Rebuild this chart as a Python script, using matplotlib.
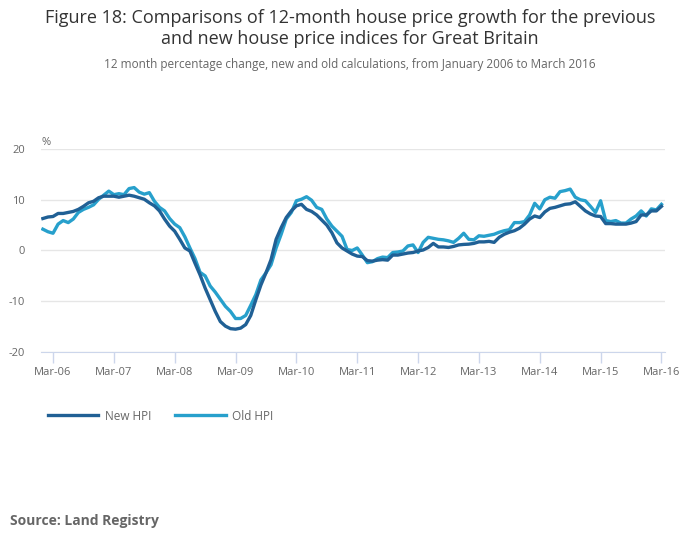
import matplotlib.pyplot as plt, numpy as np

plt.rcParams['font.family'] = ['Open Sans', 'DejaVu Sans']
plt.rcParams['axes.unicode_minus'] = False

# monthly, Jan 2006 .. Mar 2016
new_hpi = [6.3, 6.6, 6.7, 7.3, 7.3, 7.5, 7.7, 8.1, 8.7, 9.4, 9.7, 10.4, 10.7, 10.7, 10.7, 10.5,
           10.7, 10.9, 10.7, 10.4, 10.1, 9.4, 8.8, 7.8, 6.2, 4.8, 3.8, 2.2, 0.5, -0.1, -2.5, -4.8,
           -7.4, -9.7, -12.0, -14.0, -14.9, -15.4, -15.5, -15.3, -14.6, -12.8, -9.7, -6.8, -4.4, -1.8,
           2.2, 4.5, 6.5, 7.8, 8.8, 9.1, 8.1, 7.7, 7.0, 6.0, 5.0, 3.5, 1.5, 0.5, -0.1, -0.7,
           -1.1, -1.2, -2.0, -2.1, -1.9, -1.8, -1.9, -0.9, -0.9, -0.7, -0.5, -0.4, -0.1, 0.1,
           0.6, 1.4, 0.7, 0.7, 0.6, 0.8, 1.1, 1.2, 1.25, 1.4, 1.7, 1.7, 1.8, 1.6, 2.6, 3.2,
           3.6, 3.9, 4.4, 5.2, 6.2, 6.8, 6.5, 7.6, 8.3, 8.5, 8.8, 9.1, 9.2, 9.6, 8.7, 7.8,
           7.2, 6.8, 6.7, 5.3, 5.3, 5.2, 5.2, 5.2, 5.4, 5.7, 7.0, 7.0, 7.8, 7.8, 8.7]
old_hpi = [4.2, 3.7, 3.4, 5.2, 5.9, 5.5, 6.2, 7.5, 8.1, 8.5, 9.0, 10.1, 10.9, 11.7, 11.0, 11.2,
           11.0, 12.2, 12.4, 11.5, 11.1, 11.4, 9.7, 8.5, 7.8, 6.3, 5.2, 4.5, 2.7, 0.5, -1.6, -4.3,
           -5.0, -7.0, -8.2, -9.6, -11.0, -12.0, -13.4, -13.4, -12.8, -10.8, -8.7, -5.8, -4.4, -2.8,
           0.5, 3.2, 6.2, 7.5, 9.8, 10.1, 10.6, 9.9, 8.5, 8.1, 6.2, 4.8, 3.8, 2.8, 0.2, 0.0,
           0.5, -0.9, -2.4, -2.2, -1.6, -1.3, -1.4, -0.4, -0.3, -0.1, 0.9, 1.1, -0.4, 1.6,
           2.6, 2.4, 2.2, 2.1, 1.9, 1.6, 2.4, 3.4, 2.2, 2.1, 2.9, 2.8, 3.0, 3.2, 3.6, 3.9,
           4.1, 5.5, 5.5, 5.7, 7.0, 9.3, 8.2, 10.0, 10.5, 10.3, 11.6, 11.8, 12.1, 10.5, 10.0, 9.8,
           8.7, 7.5, 9.8, 5.9, 5.7, 5.9, 5.4, 5.4, 6.2, 6.8, 7.8, 6.8, 8.2, 8.0, 9.1]
tick_labels = ["Mar-06", "Mar-07", "Mar-08", "Mar-09", "Mar-10", "Mar-11",
               "Mar-12", "Mar-13", "Mar-14", "Mar-15", "Mar-16"]

months = np.arange(len(new_hpi))

fig = plt.figure(figsize=(7, 5.49), dpi=100)
ax = fig.add_axes([41 / 700, 1 - 352 / 549, 624 / 700, 203 / 549])

ax.plot(months, new_hpi, color="#206095", lw=2.4, label="New HPI", zorder=3)
ax.plot(months, old_hpi, color="#27a0cc", lw=2.4, label="Old HPI", zorder=2)

ax.set_xlim(-0.37, 122.7)
ax.set_ylim(-20, 20)
ax.set_yticks([-20, -10, 0, 10, 20])
ax.grid(axis="y", color="#e6e6e6", lw=1)
ax.set_axisbelow(True)
for s in ["top", "right", "left"]:
    ax.spines[s].set_visible(False)
ax.spines["bottom"].set_color("#ccd6eb")
ax.set_xticks(np.arange(2, len(new_hpi), 12))
ax.set_xticklabels(tick_labels)
ax.tick_params(axis="x", colors="#ccd6eb", length=8, width=1, labelcolor="#666666", labelsize=8, pad=3)
ax.tick_params(axis="y", length=0, labelcolor="#666666", labelsize=8, pad=11.5)
ax.text(0, 1.005, "%", transform=ax.transAxes, color="#666666", fontsize=8, va="bottom")

fig.text(0.5, 1 - 18 / 549, "Figure 18: Comparisons of 12-month house price growth for the previous",
         ha="center", va="center", fontsize=13, color="#333333")
fig.text(0.5, 1 - 39 / 549, "and new house price indices for Great Britain",
         ha="center", va="center", fontsize=13, color="#333333")
fig.text(0.5, 1 - 64 / 549, "12 month percentage change, new and old calculations, from January 2006 to March 2016",
         ha="center", va="center", fontsize=8.5, color="#666666")

fig.legend(loc="center left", bbox_to_anchor=(37 / 700, 1 - 416 / 549), ncol=2, frameon=False,
           handlelength=4.3, fontsize=8.5, labelcolor="#666666", columnspacing=2.0, handletextpad=0.55)

fig.text(10 / 700, 1 - 521 / 549, "Source: Land Registry", fontsize=10, fontweight="bold",
         color="#666666", va="center")

fig.savefig("out.png", dpi=100)
